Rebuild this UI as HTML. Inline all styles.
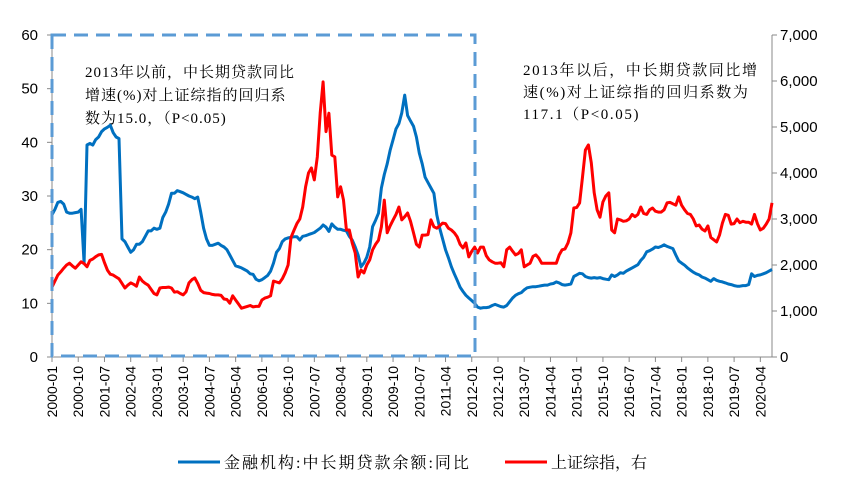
<!DOCTYPE html>
<html><head><meta charset="utf-8"><style>
html,body{margin:0;padding:0;background:#fff;}
svg{display:block;}
.ax{font-family:"Liberation Sans","Noto Sans CJK SC",sans-serif;font-size:15px;fill:#000;}
.xl{font-family:"Liberation Sans",sans-serif;font-size:14px;fill:#000;}
.note{font-family:"Liberation Serif","Noto Serif CJK SC",serif;font-size:15px;fill:#000;letter-spacing:1px;}
.note2{font-family:"Liberation Serif","Noto Serif CJK SC",serif;font-size:15px;fill:#000;letter-spacing:1.6px;}
.leg{font-family:"Liberation Serif","Noto Serif CJK SC",serif;font-size:16px;fill:#000;}
</style></head><body>
<svg id="chart" width="843" height="481" viewBox="0 0 843 481" xmlns="http://www.w3.org/2000/svg">
<g id="axes"></g>
<g id="series"></g>
<rect x="52" y="35" width="423" height="321" fill="none" stroke="#5b9bd5" stroke-width="3" stroke-dasharray="14,8"/>
<text class="note" x="85" y="77">2013年以前，中长期贷款同比</text>
<text class="note" x="85" y="100">增速(%)对上证综指的回归系</text>
<text class="note" x="85" y="123">数为15.0，（P&lt;0.05)</text>
<text class="note2" x="523" y="75">2013年以后，中长期贷款同比增</text>
<text class="note2" x="523" y="97">速(%)对上证综指的回归系数为</text>
<text class="note2" x="523" y="119">117.1（P&lt;0.05)</text>
<g>
<line x1="178" y1="462" x2="220" y2="462" stroke="#0070c0" stroke-width="3"/>
<text class="leg" x="224" y="468" style="letter-spacing:2px">金融机构:中长期贷款余额:同比</text>
<line x1="505" y1="462" x2="547" y2="462" stroke="#ff0000" stroke-width="3"/>
<text class="leg" x="551" y="468">上证综指，右</text>
</g>
</svg>
<script>
const loanGrowth = [
26.5,27.5,28.8,29,28.5,27,26.8,26.8,26.9,27,27.5,17.5,
39.5,39.8,39.5,40.5,41,42,42.5,42.8,43.2,41.8,41,40.7,
22,21.5,20.5,19.5,20,21,21,21.5,22.5,23.5,23.5,24,
23.8,24,26,27,28.5,30.5,30.5,31,30.8,30.6,30.3,30,
29.8,29.5,29.8,27,24,22,20.8,20.8,21,21.2,20.8,20.5,
20,19,18,17,16.8,16.6,16.3,16,15.5,15.4,14.5,14.2,
14.4,14.8,15.2,16,17.5,19.5,20.2,21.5,22,22.2,22.3,22.4,
22.4,21.8,22.5,22.6,22.8,23,23.2,23.6,24,24.6,24.2,23.4,
24.8,24.2,23.8,23.8,23.6,23.5,22.5,21.8,20.5,19,16.8,17.5,
18.6,20.5,24.3,25.5,26.8,31.5,34,36,38.5,40.5,42.5,43.5,
45.5,48.8,45,44,43,41,38,36,33.5,32.5,31.5,30.5,
26.5,24,22,20,18.5,16.8,15.5,14.3,13,12.2,11.5,11,
10.5,10,9.3,9.1,9.2,9.2,9.3,9.6,9.8,9.6,9.4,9.3,
9.6,10.3,11,11.5,11.8,12,12.5,12.9,13,13.1,13.1,13.2,
13.3,13.4,13.4,13.6,13.7,14,13.8,13.5,13.4,13.5,13.6,15,
15.3,15.6,15.5,15,14.8,14.7,14.8,14.7,14.8,14.6,14.5,14.4,
15.3,15,15.3,15.7,15.6,16,16.3,16.6,16.9,17.2,18,18.6,
19.6,19.8,20.1,20.5,20.4,20.6,20.9,20.6,20.4,20.2,19,17.9,
17.5,17.1,16.6,16.2,15.8,15.5,15.3,14.9,14.7,14.4,14.1,14.6,
14.3,14.1,14,13.8,13.6,13.5,13.3,13.2,13.2,13.3,13.3,13.5,
15.5,15,15.2,15.3,15.5,15.7,16,16.3];
const sseIndex = [
1520,1650,1780,1850,1930,2000,2040,1980,1930,2000,2070,2030,
1960,2100,2130,2180,2220,2230,2050,1890,1800,1780,1740,1700,
1600,1500,1560,1610,1580,1540,1740,1650,1600,1560,1470,1380,
1350,1500,1510,1510,1520,1500,1410,1420,1380,1350,1420,1610,
1680,1720,1600,1450,1400,1390,1380,1360,1350,1350,1340,1260,
1250,1170,1330,1240,1150,1060,1080,1100,1120,1090,1100,1100,
1240,1280,1300,1330,1650,1630,1610,1700,1830,2000,2600,2750,
2900,3000,3260,3700,4000,4110,3850,4350,5300,5980,4900,5300,
4390,4350,3480,3700,3410,2760,2760,2480,2260,1740,1890,1826,
2000,2110,2330,2450,2540,2830,3410,2700,2850,2980,3100,3260,
2980,3050,3130,2950,2700,2450,2390,2650,2650,2660,2980,2830,
2800,2850,2910,2900,2800,2760,2700,2610,2450,2370,2480,2175,
2300,2390,2260,2390,2390,2200,2110,2070,2040,2040,2050,1960,
2330,2390,2300,2220,2250,2330,1960,2000,2040,2190,2220,2150,
2040,2040,2040,2040,2040,2040,2220,2330,2350,2480,2700,3240,
3250,3350,3910,4500,4610,4220,3570,3200,3040,3370,3500,3570,
2760,2700,3000,2980,2950,2960,3000,3100,3050,3100,3260,3120,
3100,3200,3240,3170,3150,3150,3200,3350,3360,3330,3300,3480,
3300,3200,3120,3100,3000,2850,2870,2780,2740,2850,2600,2550,
2500,2650,2910,3100,3080,2890,2900,3000,2920,2950,2930,2930,
2890,3100,2900,2760,2800,2890,3000,3350];
const leftTicks = [0,10,20,30,40,50,60];
const rightTicks = [0,1000,2000,3000,4000,5000,6000,7000];
const rightTickLabels = ["0","1,000","2,000","3,000","4,000","5,000","6,000","7,000"];
const xTickLabels = ["2000-01","2000-10","2001-07","2002-04","2003-01","2003-10","2004-07","2005-04","2006-01","2006-10","2007-07","2008-04","2009-01","2009-10","2010-07","2011-04","2012-01","2012-10","2013-07","2014-04","2015-01","2015-10","2016-07","2017-04","2018-01","2018-10","2019-07","2020-04"];

const NS="http://www.w3.org/2000/svg";
const X0=52,X1=772,Y0=357,Y1=35,N=248;
const xs=i=>X0+i*(X1-X0)/(N-1);
const yl=v=>Y0-(v/60)*(Y0-Y1);
const yr=v=>Y0-(v/7000)*(Y0-Y1);
function mk(tag,attrs,parent){const e=document.createElementNS(NS,tag);for(const k in attrs)e.setAttribute(k,attrs[k]);parent.appendChild(e);return e;}
const axes=document.getElementById('axes'),series=document.getElementById('series');

const la=mk('line',{x1:X0,y1:Y1,x2:X0,y2:Y0,stroke:'#888','stroke-width':1},axes);


const ra=mk('line',{x1:X1,y1:Y1,x2:X1,y2:Y0,stroke:'#888','stroke-width':1},axes);


const xa=mk('line',{x1:X0,y1:Y0,x2:X1,y2:Y0,stroke:'#888','stroke-width':1},axes);



leftTicks.forEach(v=>{
  const y=yl(v);
  mk('line',{x1:X0-5,y1:y,x2:X0,y2:y,stroke:'#888'},axes);
  const t=mk('text',{x:X0-14,y:y+5,'text-anchor':'end',class:'ax'},axes);
  t.textContent=v;
  
  
});
rightTicks.forEach((v,i)=>{
  const y=yr(v);
  mk('line',{x1:X1,y1:y,x2:X1+5,y2:y,stroke:'#888'},axes);
  const t=mk('text',{x:X1+8,y:y+5,'text-anchor':'start',class:'ax'},axes);
  t.textContent=rightTickLabels[i];
  
  
});
xTickLabels.forEach((lab,k)=>{
  const x=xs(k*9);
  mk('line',{x1:x,y1:Y0,x2:x,y2:Y0+5,stroke:'#888'},axes);
  const t=mk('text',{x:0,y:0,'text-anchor':'end',class:'xl',transform:`translate(${x+5},${Y0+9}) rotate(-90)`},axes);
  t.textContent=lab;
  
  
});

const bp=mk('polyline',{points:loanGrowth.map((v,i)=>xs(i).toFixed(1)+','+yl(v).toFixed(1)).join(' '),fill:'none',stroke:'#0070c0','stroke-width':3,'stroke-linejoin':'round'},series);


const rp=mk('polyline',{points:sseIndex.map((v,i)=>xs(i).toFixed(1)+','+yr(v).toFixed(1)).join(' '),fill:'none',stroke:'#ff0000','stroke-width':3,'stroke-linejoin':'round'},series);


</script>
</body></html>
